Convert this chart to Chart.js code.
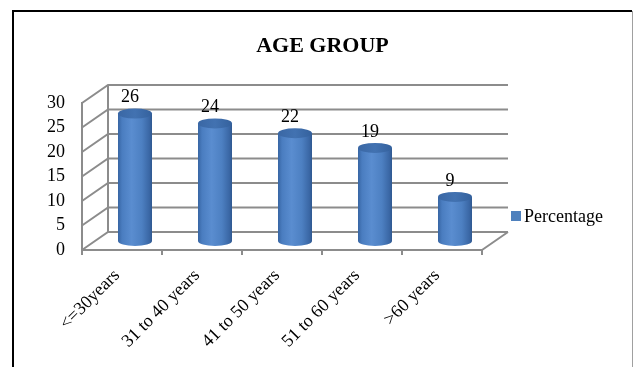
<!DOCTYPE html>
<html>
<head>
<meta charset="utf-8">
<script src="https://cdn.jsdelivr.net/npm/chart.js@4/dist/chart.umd.min.js"></script>
<style>
  html, body { margin: 0; padding: 0; background: #ffffff; }
  #wrap { width: 633px; height: 367px; position: relative; }
</style>
</head>
<body>
<div id="wrap"><canvas id="c" width="633" height="367"></canvas></div>
<script>
// ---- data ----
const chartTitle = 'AGE GROUP';
const categories = ['<=30years', '31 to 40 years', '41 to 50 years', '51 to 60 years', '>60 years'];
const seriesName = 'Percentage';
const percentages = [26, 24, 22, 19, 9];
const yTicks = [0, 5, 10, 15, 20, 25, 30];

// ---- style ----
const FONT = '"Liberation Serif", "Times New Roman", serif';
const GRID = '#8c8c8c';
const DEPTH_X = 26, DEPTH_Y = -18;   // 3D wall depth offset

const threeD = {
  id: 'threeD',
  beforeDraw(chart) {
    const ctx = chart.ctx;
    ctx.save();
    // outer frame
    ctx.strokeStyle = '#000';
    ctx.lineWidth = 2;
    ctx.beginPath();
    ctx.moveTo(13, 367);
    ctx.lineTo(13, 11);
    ctx.lineTo(632, 11);
    ctx.stroke();
    ctx.strokeStyle = '#a0a0a0';
    ctx.lineWidth = 1;
    ctx.beginPath();
    ctx.moveTo(632.5, 11);
    ctx.lineTo(632.5, 367);
    ctx.stroke();

    // title
    ctx.fillStyle = '#000';
    ctx.font = 'bold 22px ' + FONT;
    ctx.textAlign = 'center';
    ctx.textBaseline = 'middle';
    ctx.fillText(chartTitle, 322.5, 46);

    // legend
    const ds = chart.data.datasets[0];
    ctx.fillStyle = ds.backgroundColor;
    ctx.fillRect(511, 211, 10, 10);
    ctx.fillStyle = '#000';
    ctx.font = '18px ' + FONT;
    ctx.textAlign = 'left';
    ctx.fillText(ds.label, 524, 217);
    ctx.restore();
  },
  beforeDatasetsDraw(chart) {
    const ctx = chart.ctx;
    const x = chart.scales.x, y = chart.scales.y;
    const L = x.left, R = x.right;
    ctx.save();
    ctx.strokeStyle = GRID;
    ctx.lineWidth = 2;
    ctx.lineCap = 'butt';
    ctx.beginPath();
    yTicks.forEach(v => {
      const py = y.getPixelForValue(v);
      ctx.moveTo(L, py);
      ctx.lineTo(L + DEPTH_X, py + DEPTH_Y);
      ctx.lineTo(R + DEPTH_X, py + DEPTH_Y);
    });
    const top = y.getPixelForValue(yTicks[yTicks.length - 1]);
    const bot = y.getPixelForValue(0);
    ctx.moveTo(L + DEPTH_X, top + DEPTH_Y);
    ctx.lineTo(L + DEPTH_X, bot + DEPTH_Y);
    ctx.moveTo(R, bot);
    ctx.lineTo(R + DEPTH_X, bot + DEPTH_Y);
    ctx.stroke();
    ctx.restore();
  },
  beforeDatasetDraw() { return false; },
  afterDatasetsDraw(chart) {
    const ctx = chart.ctx;
    const meta = chart.getDatasetMeta(0);
    const ox = DEPTH_X / 2, oy = DEPTH_Y / 2;
    meta.data.forEach((bar, i) => {
      const p = bar.getProps(['x', 'y', 'base', 'width'], true);
      const cx = p.x + ox;
      const w = p.width;
      const l = cx - w / 2, r = cx + w / 2;
      const topY = p.y + oy, botY = p.base + oy;
      const ry = 5;
      ctx.save();
      const g = ctx.createLinearGradient(l, 0, r, 0);
      g.addColorStop(0, '#3765a3');
      g.addColorStop(0.12, '#4a7dc0');
      g.addColorStop(0.4, '#5a8dd0');
      g.addColorStop(0.7, '#4d80c2');
      g.addColorStop(0.92, '#3a67a5');
      g.addColorStop(1, '#2f5890');
      ctx.fillStyle = g;
      ctx.beginPath();
      ctx.moveTo(l, topY);
      ctx.lineTo(l, botY);
      ctx.ellipse(cx, botY, w / 2, ry, 0, Math.PI, 0, true);
      ctx.lineTo(r, topY);
      ctx.closePath();
      ctx.fill();
      const tg = ctx.createLinearGradient(l, 0, r, 0);
      tg.addColorStop(0, '#3a67a4');
      tg.addColorStop(0.5, '#4272b1');
      tg.addColorStop(1, '#34619d');
      ctx.fillStyle = tg;
      ctx.beginPath();
      ctx.ellipse(cx, topY, w / 2, ry, 0, 0, Math.PI * 2);
      ctx.fill();
      ctx.fillStyle = '#000';
      ctx.font = '18px ' + FONT;
      ctx.textAlign = 'center';
      ctx.textBaseline = 'middle';
      ctx.fillText(String(percentages[i]), p.x + 8, p.y - 25);
      ctx.restore();
    });
  }
};

new Chart(document.getElementById('c'), {
  type: 'bar',
  data: {
    labels: categories,
    datasets: [{
      label: seriesName,
      data: percentages,
      backgroundColor: '#4f81bd',
      categoryPercentage: 1,
      barPercentage: 0.425
    }]
  },
  options: {
    responsive: false,
    animation: false,
    devicePixelRatio: 1,
    layout: { padding: { top: 103, right: 151, left: 0, bottom: 0 } },
    plugins: {
      legend: { display: false },
      title: { display: false },
      tooltip: { enabled: false }
    },
    scales: {
      x: {
        offset: true,
        grid: { display: true, drawOnChartArea: false, drawTicks: true, tickLength: 5, color: GRID, lineWidth: 2, offset: true },
        border: { display: true, color: GRID, width: 2 },
        ticks: { color: '#000', font: { family: FONT, size: 18 }, minRotation: 45, maxRotation: 45, padding: 10, labelOffset: -5, autoSkip: false },
        afterFit(s) { s.height = 117; }
      },
      y: {
        min: 0, max: 30,
        grid: { display: false, drawTicks: false },
        border: { display: true, color: GRID, width: 2 },
        ticks: { stepSize: 5, color: '#000', font: { family: FONT, size: 18 }, padding: 17, autoSkip: false },
        afterFit(s) { s.width = 82; }
      }
    }
  },
  plugins: [threeD]
});
</script>
</body>
</html>
